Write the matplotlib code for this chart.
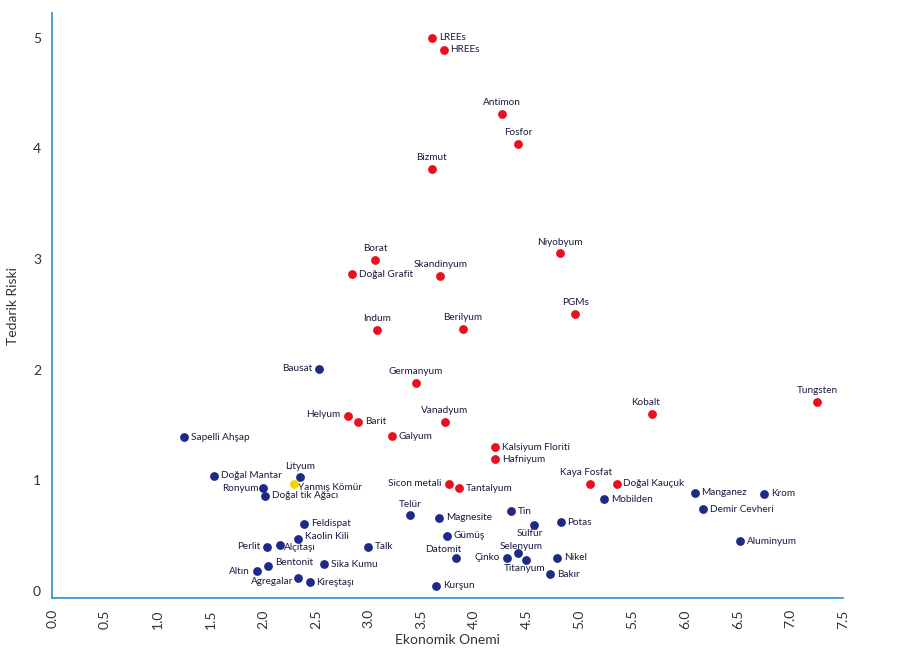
import matplotlib.pyplot as plt

# Critical raw materials: economic importance (x) vs supply risk (y)
crit_names = ['LREEs', 'HREEs', 'Antimon', 'Fosfor', 'Bizmut', 'Borat', 'Doğal Grafit',
              'Skandinyum', 'Niyobyum', 'PGMs', 'Indum', 'Berilyum', 'Germanyum',
              'Helyum', 'Barit', 'Vanadyum', 'Galyum', 'Kalsiyum Floriti', 'Hafniyum',
              'Sicon metali', 'Tantalyum', 'Kaya Fosfat', 'Doğal Kauçuk', 'Kobalt', 'Tungsten']
crit_x = [3.60, 3.71, 4.26, 4.42, 3.60, 3.06, 2.84, 3.68, 4.81, 4.96, 3.08, 3.89, 3.45,
          2.80, 2.90, 3.72, 3.22, 4.20, 4.20, 3.76, 3.86, 5.10, 5.35, 5.69, 7.25]
crit_y = [5.00, 4.89, 4.31, 4.04, 3.81, 2.99, 2.86, 2.85, 3.05, 2.50, 2.36, 2.37, 1.88,
          1.58, 1.53, 1.53, 1.40, 1.30, 1.19, 0.97, 0.93, 0.97, 0.97, 1.60, 1.71]

# Non-critical materials
other_names = ['Bausat', 'Sapelli Ahşap', 'Doğal Mantar', 'Ronyum', 'Doğal tik Ağacı',
               'Lityum', 'Feldispat', 'Kaolin Kili', 'Alçıtaşı', 'Perlit', 'Talk',
               'Bentonit', 'Sika Kumu', 'Altın', 'Agregalar', 'Kireştaşı', 'Telür',
               'Magnesite', 'Gümüş', 'Datomit', 'Kurşun', 'Tin', 'Sülfür', 'Potas',
               'Selenyum', 'Çinko', 'Titanyum', 'Nikel', 'Bakır', 'Mobilden', 'Manganez',
               'Krom', 'Demir Cevheri', 'Aluminyum']
other_x = [2.53, 1.25, 1.53, 2.00, 2.02, 2.35, 2.39, 2.33, 2.16, 2.04, 2.99, 2.05, 2.58,
           1.94, 2.33, 2.44, 3.39, 3.67, 3.74, 3.83, 3.64, 4.35, 4.57, 4.82, 4.42, 4.31,
           4.49, 4.79, 4.72, 5.23, 6.09, 6.75, 6.17, 6.52]
other_y = [2.01, 1.39, 1.04, 0.93, 0.86, 1.03, 0.61, 0.47, 0.42, 0.40, 0.40, 0.23, 0.24,
           0.18, 0.12, 0.08, 0.69, 0.66, 0.50, 0.30, 0.05, 0.72, 0.60, 0.62, 0.34, 0.30,
           0.28, 0.30, 0.15, 0.83, 0.89, 0.88, 0.74, 0.45]

# Highlighted material
hl_names = ['Yanmış Kömür']
hl_x = [2.29]
hl_y = [0.97]

x_ticks = [0.0, 0.5, 1.0, 1.5, 2.0, 2.5, 3.0, 3.5, 4.0, 4.5, 5.0, 5.5, 6.0, 6.5, 7.0, 7.5]
y_ticks = [0, 1, 2, 3, 4, 5]

RED = '#e8101e'
BLUE = '#1f2a86'
YELLOW = '#f7d400'
SPINE = '#2b8fd2'
TXT = '#1a1a40'

plt.rcParams['font.family'] = ['Lato', 'DejaVu Sans']

# label offset in points (dx, dy) and alignment; default is right of the point
right = (5, 0, 'left', 'center')
place = {
    'Antimon': (0, 5, 'center', 'bottom'), 'Fosfor': (0, 5, 'center', 'bottom'),
    'Bizmut': (0, 5, 'center', 'bottom'), 'Borat': (0, 5, 'center', 'bottom'),
    'Skandinyum': (0, 5, 'center', 'bottom'), 'Niyobyum': (0, 5, 'center', 'bottom'),
    'PGMs': (0, 5, 'center', 'bottom'), 'Indum': (0, 5, 'center', 'bottom'),
    'Berilyum': (0, 5, 'center', 'bottom'), 'Germanyum': (0, 5, 'center', 'bottom'),
    'Vanadyum': (0, 5, 'center', 'bottom'), 'Kaya Fosfat': (-3, 5, 'center', 'bottom'),
    'Kobalt': (-5, 5, 'center', 'bottom'), 'Tungsten': (0, 5, 'center', 'bottom'),
    'Lityum': (0, 4, 'center', 'bottom'), 'Telür': (0, 4, 'center', 'bottom'),
    'Datomit': (-9, 3, 'center', 'bottom'), 'Selenyum': (2, 2, 'center', 'bottom'),
    'Bausat': (-5, 0, 'right', 'center'), 'Helyum': (-5, 1, 'right', 'center'),
    'Sicon metali': (-5, 0, 'right', 'center'), 'Ronyum': (-3, 0, 'right', 'center'),
    'Perlit': (-5, 0, 'right', 'center'), 'Altın': (-5, 0, 'right', 'center'),
    'Çinko': (-5, 0, 'right', 'center'), 'Agregalar': (-3, -3, 'right', 'center'),
    'Sülfür': (-3, -3, 'center', 'top'), 'Titanyum': (-1, -3, 'center', 'top'),
    'Kaolin Kili': (5, 2, 'left', 'center'), 'Alçıtaşı': (3, -2, 'left', 'center'),
    'Bentonit': (5, 2, 'left', 'center'), 'Yanmış Kömür': (3, -3, 'left', 'center'),
}

fig = plt.figure(figsize=(9, 6.63), dpi=100)
ax = fig.add_axes([0.058, 0.098, 0.879, 0.882])

ax.scatter(other_x, other_y, s=40, color=BLUE, zorder=3, linewidths=0)
ax.scatter(crit_x, crit_y, s=40, color=RED, zorder=3, linewidths=0)
ax.scatter(hl_x, hl_y, s=40, color=YELLOW, zorder=4, linewidths=0)


def label(names, xs, ys):
    for n, x, y in zip(names, xs, ys):
        dx, dy, ha, va = place.get(n, right)
        ax.annotate(n, (x, y), xytext=(dx, dy), textcoords='offset points',
                    ha=ha, va=va, fontsize=7.2, color=TXT)


label(crit_names, crit_x, crit_y)
label(other_names, other_x, other_y)
label(hl_names, hl_x, hl_y)

ax.set_xlim(0, 7.5)
ax.set_ylim(-0.063, 5.22)
ax.set_xticks(x_ticks)
ax.set_xticklabels([f'{t:.1f}' for t in x_ticks], rotation=90)
ax.set_yticks(y_ticks)
ax.tick_params(length=0, labelsize=10, colors='#333333', pad=8)
ax.set_xlabel('Ekonomik Onemi', fontsize=10, color='#333333', labelpad=4)
ax.set_ylabel('Tedarik Riski', fontsize=10, color='#333333', labelpad=10)

for s in ['top', 'right']:
    ax.spines[s].set_visible(False)
for s in ['left', 'bottom']:
    ax.spines[s].set_color(SPINE)
    ax.spines[s].set_linewidth(1.2)

fig.savefig('out.png', dpi=100)
